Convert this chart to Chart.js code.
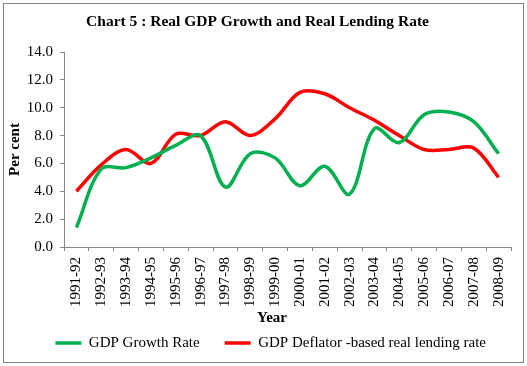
<!DOCTYPE html>
<html>
<head>
<meta charset="utf-8">
<script src="https://cdn.jsdelivr.net/npm/chart.js@4.4.1/dist/chart.umd.min.js"></script>
<style>
  html, body { margin: 0; padding: 0; background: #fff; }
</style>
</head>
<body>
<canvas id="myChart" width="527" height="366"></canvas>
<script>
  const years = ['1991-92', '1992-93', '1993-94', '1994-95', '1995-96', '1996-97', '1997-98', '1998-99', '1999-00',
    '2000-01', '2001-02', '2002-03', '2003-04', '2004-05', '2005-06', '2006-07', '2007-08', '2008-09']
  const gdpGrowth = [1.4, 5.6, 5.7, 6.4, 7.3, 8.0, 4.3, 6.7, 6.4, 4.4, 5.8, 3.8, 8.5, 7.5, 9.5, 9.7, 9.0, 6.7]
  const lendingRate = [4.0, 5.9, 7.0, 6.0, 8.1, 8.0, 9.0, 8.0, 9.2, 11.1, 11.0, 10.0, 9.1, 8.0, 7.0, 7.0, 7.1, 5.0]

  const serif = '"Liberation Serif", "Times New Roman", serif'
  Chart.defaults.font.family = serif
  Chart.defaults.color = '#000'

  // outer frame + x axis title
  const frame = {
    id: 'frame',
    beforeDraw(chart) {
      const ctx = chart.ctx
      ctx.save()
      ctx.fillStyle = '#fff'
      ctx.fillRect(0, 0, chart.width, chart.height)
      ctx.strokeStyle = '#7f7f7f'
      ctx.lineWidth = 1
      ctx.strokeRect(3.5, 3.5, 520, 359)
      ctx.restore()
    },
    afterDraw(chart) {
      const ctx = chart.ctx
      ctx.save()
      ctx.font = 'bold 15px ' + serif
      ctx.fillStyle = '#000'
      ctx.textAlign = 'center'
      ctx.textBaseline = 'middle'
      ctx.fillText('Year', 272, 318)
      ctx.restore()
    }
  }

  const ctx = document.getElementById('myChart')
  const myChart = new Chart(ctx, {
    type: 'line',
    data: {
      labels: years,
      datasets: [{
        label: 'GDP Growth Rate',
        data: gdpGrowth,
        borderColor: '#00b050',
        backgroundColor: '#00b050',
        borderWidth: 3.5,
        pointRadius: 0,
        tension: 0.35
      }, {
        label: 'GDP Deflator -based real lending rate',
        data: lendingRate,
        borderColor: '#ff0000',
        backgroundColor: '#ff0000',
        borderWidth: 3.5,
        pointRadius: 0,
        tension: 0.35
      }]
    },
    options: {
      responsive: false,
      animation: false,
      layout: { padding: { left: 4, right: 16, top: 0, bottom: 5.5 } },
      scales: {
        x: {
          offset: true,
          grid: { drawOnChartArea: false, tickLength: 4, color: '#868686', offset: true },
          border: { color: '#868686' },
          ticks: { font: { size: 15 }, padding: 6, minRotation: 90, maxRotation: 90, autoSkip: false },
          afterFit: scale => { scale.height = 63.5 }
        },
        y: {
          min: 0,
          max: 14,
          grid: { drawOnChartArea: false, tickLength: 4, color: '#868686' },
          border: { color: '#868686' },
          ticks: { stepSize: 2, font: { size: 15 }, padding: 7, callback: v => v.toFixed(1) },
          title: { display: true, text: 'Per cent', font: { size: 15, weight: 'bold' }, padding: { top: 2.5, bottom: 0 } },
          afterFit: scale => { scale.width = 60 }
        }
      },
      plugins: {
        title: {
          display: true,
          text: 'Chart 5 : Real GDP Growth and Real Lending Rate',
          font: { size: 15.5, weight: 'bold' },
          color: '#000',
          padding: { top: 13, bottom: 20.4 }
        },
        legend: {
          position: 'bottom',
          align: 'end',
          labels: {
            usePointStyle: true,
            pointStyle: 'line',
            pointStyleWidth: 26,
            font: { size: 15 },
            padding: 25,
            color: '#000'
          }
        },
        tooltip: { enabled: false }
      }
    },
    plugins: [frame]
  })
</script>
</body>
</html>
